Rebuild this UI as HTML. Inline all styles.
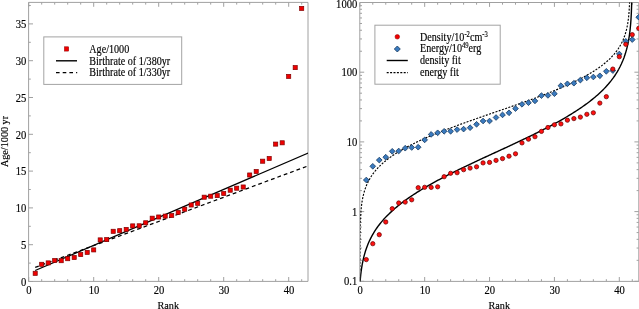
<!DOCTYPE html><html><head><meta charset="utf-8"><style>
html,body{margin:0;padding:0;background:#fff;}
svg{display:block;}
text{font-family:"Liberation Serif",serif;fill:#000;stroke:#000;stroke-width:0.15px;}svg{will-change:transform;}
</style></head><body>
<svg width="639" height="309" viewBox="0 0 639 309">
<rect x="0" y="0" width="639" height="309" fill="#fff"/>
<defs><clipPath id="cl"><rect x="28.6" y="2.4" width="279.4" height="279"/></clipPath>
<clipPath id="cr"><rect x="360.15" y="2.5" width="281" height="278.9"/></clipPath></defs>
<path d="M28.7 281.4v-4.4M28.7 2.4v4.4M41.7 281.4v-2.2M41.7 2.4v2.2M54.7 281.4v-2.2M54.7 2.4v2.2M67.7 281.4v-2.2M67.7 2.4v2.2M80.7 281.4v-2.2M80.7 2.4v2.2M93.7 281.4v-4.4M93.7 2.4v4.4M106.7 281.4v-2.2M106.7 2.4v2.2M119.7 281.4v-2.2M119.7 2.4v2.2M132.7 281.4v-2.2M132.7 2.4v2.2M145.7 281.4v-2.2M145.7 2.4v2.2M158.7 281.4v-4.4M158.7 2.4v4.4M171.7 281.4v-2.2M171.7 2.4v2.2M184.7 281.4v-2.2M184.7 2.4v2.2M197.7 281.4v-2.2M197.7 2.4v2.2M210.7 281.4v-2.2M210.7 2.4v2.2M223.7 281.4v-4.4M223.7 2.4v4.4M236.7 281.4v-2.2M236.7 2.4v2.2M249.7 281.4v-2.2M249.7 2.4v2.2M262.7 281.4v-2.2M262.7 2.4v2.2M275.7 281.4v-2.2M275.7 2.4v2.2M288.7 281.4v-4.4M288.7 2.4v4.4M301.7 281.4v-2.2M301.7 2.4v2.2M28.6 281.5h4.4M28.6 263.1h2.2M28.6 244.7h4.4M28.6 226.3h2.2M28.6 207.9h4.4M28.6 189.5h2.2M28.6 171.1h4.4M28.6 152.7h2.2M28.6 134.3h4.4M28.6 115.9h2.2M28.6 97.5h4.4M28.6 79.1h2.2M28.6 60.7h4.4M28.6 42.3h2.2M28.6 23.9h4.4M28.6 5.5h2.2" stroke="#a0a0a0" stroke-width="1" fill="none"/>
<path d="M28.6 2.4H308V281.4H28.6Z" stroke="#a0a0a0" stroke-width="1.0" fill="none"/>
<text transform="translate(26.3 285.8) scale(0.9 1)" font-size="11.8" text-anchor="end">0</text>
<text transform="translate(26.3 249) scale(0.9 1)" font-size="11.8" text-anchor="end">5</text>
<text transform="translate(26.3 212.2) scale(0.9 1)" font-size="11.8" text-anchor="end">10</text>
<text transform="translate(26.3 175.4) scale(0.9 1)" font-size="11.8" text-anchor="end">15</text>
<text transform="translate(26.3 138.6) scale(0.9 1)" font-size="11.8" text-anchor="end">20</text>
<text transform="translate(26.3 101.8) scale(0.9 1)" font-size="11.8" text-anchor="end">25</text>
<text transform="translate(26.3 65) scale(0.9 1)" font-size="11.8" text-anchor="end">30</text>
<text transform="translate(26.3 28.2) scale(0.9 1)" font-size="11.8" text-anchor="end">35</text>
<text transform="translate(29 294) scale(0.9 1)" font-size="11.8" text-anchor="middle">0</text>
<text transform="translate(94 294) scale(0.9 1)" font-size="11.8" text-anchor="middle">10</text>
<text transform="translate(159 294) scale(0.9 1)" font-size="11.8" text-anchor="middle">20</text>
<text transform="translate(224 294) scale(0.9 1)" font-size="11.8" text-anchor="middle">30</text>
<text transform="translate(289 294) scale(0.9 1)" font-size="11.8" text-anchor="middle">40</text>
<text x="168.3" y="308.6" font-size="10.2" text-anchor="middle">Rank</text>
<text transform="translate(8.2 141.5) rotate(-90)" font-size="10.2" text-anchor="middle">Age/1000 yr</text>
<g clip-path="url(#cl)"><path d="M35.2 270.53L308.2 153.07" stroke="#000" stroke-width="1.25" fill="none"/><path d="M35.2 267.37L308.2 165.82" stroke="#000" stroke-width="1.25" stroke-dasharray="3.8 3.0" fill="none"/><rect x="33.15" y="271.25" width="4.1" height="4.1" fill="#f00000" stroke="#800000" stroke-width="0.7"/><rect x="39.65" y="262.25" width="4.1" height="4.1" fill="#f00000" stroke="#800000" stroke-width="0.7"/><rect x="46.15" y="260.85" width="4.1" height="4.1" fill="#f00000" stroke="#800000" stroke-width="0.7"/><rect x="52.65" y="258.45" width="4.1" height="4.1" fill="#f00000" stroke="#800000" stroke-width="0.7"/><rect x="59.15" y="258.65" width="4.1" height="4.1" fill="#f00000" stroke="#800000" stroke-width="0.7"/><rect x="65.65" y="256.65" width="4.1" height="4.1" fill="#f00000" stroke="#800000" stroke-width="0.7"/><rect x="72.15" y="255.45" width="4.1" height="4.1" fill="#f00000" stroke="#800000" stroke-width="0.7"/><rect x="78.65" y="252.55" width="4.1" height="4.1" fill="#f00000" stroke="#800000" stroke-width="0.7"/><rect x="85.15" y="250.35" width="4.1" height="4.1" fill="#f00000" stroke="#800000" stroke-width="0.7"/><rect x="91.65" y="247.85" width="4.1" height="4.1" fill="#f00000" stroke="#800000" stroke-width="0.7"/><rect x="98.15" y="237.85" width="4.1" height="4.1" fill="#f00000" stroke="#800000" stroke-width="0.7"/><rect x="104.65" y="237.55" width="4.1" height="4.1" fill="#f00000" stroke="#800000" stroke-width="0.7"/><rect x="111.15" y="229.25" width="4.1" height="4.1" fill="#f00000" stroke="#800000" stroke-width="0.7"/><rect x="117.65" y="228.65" width="4.1" height="4.1" fill="#f00000" stroke="#800000" stroke-width="0.7"/><rect x="124.15" y="227.35" width="4.1" height="4.1" fill="#f00000" stroke="#800000" stroke-width="0.7"/><rect x="130.65" y="223.85" width="4.1" height="4.1" fill="#f00000" stroke="#800000" stroke-width="0.7"/><rect x="137.15" y="223.75" width="4.1" height="4.1" fill="#f00000" stroke="#800000" stroke-width="0.7"/><rect x="143.65" y="220.75" width="4.1" height="4.1" fill="#f00000" stroke="#800000" stroke-width="0.7"/><rect x="150.15" y="216.15" width="4.1" height="4.1" fill="#f00000" stroke="#800000" stroke-width="0.7"/><rect x="156.65" y="214.95" width="4.1" height="4.1" fill="#f00000" stroke="#800000" stroke-width="0.7"/><rect x="163.15" y="214.05" width="4.1" height="4.1" fill="#f00000" stroke="#800000" stroke-width="0.7"/><rect x="169.65" y="213.45" width="4.1" height="4.1" fill="#f00000" stroke="#800000" stroke-width="0.7"/><rect x="176.15" y="210.35" width="4.1" height="4.1" fill="#f00000" stroke="#800000" stroke-width="0.7"/><rect x="182.65" y="207.15" width="4.1" height="4.1" fill="#f00000" stroke="#800000" stroke-width="0.7"/><rect x="189.15" y="202.95" width="4.1" height="4.1" fill="#f00000" stroke="#800000" stroke-width="0.7"/><rect x="195.65" y="201.25" width="4.1" height="4.1" fill="#f00000" stroke="#800000" stroke-width="0.7"/><rect x="202.15" y="195.15" width="4.1" height="4.1" fill="#f00000" stroke="#800000" stroke-width="0.7"/><rect x="208.65" y="194.15" width="4.1" height="4.1" fill="#f00000" stroke="#800000" stroke-width="0.7"/><rect x="215.15" y="193.55" width="4.1" height="4.1" fill="#f00000" stroke="#800000" stroke-width="0.7"/><rect x="221.65" y="191.45" width="4.1" height="4.1" fill="#f00000" stroke="#800000" stroke-width="0.7"/><rect x="228.15" y="188.15" width="4.1" height="4.1" fill="#f00000" stroke="#800000" stroke-width="0.7"/><rect x="234.65" y="186.15" width="4.1" height="4.1" fill="#f00000" stroke="#800000" stroke-width="0.7"/><rect x="241.15" y="184.95" width="4.1" height="4.1" fill="#f00000" stroke="#800000" stroke-width="0.7"/><rect x="247.65" y="172.95" width="4.1" height="4.1" fill="#f00000" stroke="#800000" stroke-width="0.7"/><rect x="254.15" y="169.45" width="4.1" height="4.1" fill="#f00000" stroke="#800000" stroke-width="0.7"/><rect x="260.65" y="159.15" width="4.1" height="4.1" fill="#f00000" stroke="#800000" stroke-width="0.7"/><rect x="267.15" y="156.45" width="4.1" height="4.1" fill="#f00000" stroke="#800000" stroke-width="0.7"/><rect x="273.65" y="142.05" width="4.1" height="4.1" fill="#f00000" stroke="#800000" stroke-width="0.7"/><rect x="280.15" y="140.75" width="4.1" height="4.1" fill="#f00000" stroke="#800000" stroke-width="0.7"/><rect x="286.65" y="74.35" width="4.1" height="4.1" fill="#f00000" stroke="#800000" stroke-width="0.7"/><rect x="293.15" y="65.55" width="4.1" height="4.1" fill="#f00000" stroke="#800000" stroke-width="0.7"/><rect x="299.65" y="6.35" width="4.1" height="4.1" fill="#f00000" stroke="#800000" stroke-width="0.7"/></g>
<rect x="43.8" y="36.9" width="137.9" height="47.5" fill="#fff" stroke="#a3a3a3" stroke-width="1"/>
<rect x="64.4" y="46.8" width="4.3" height="4.3" fill="#f00000" stroke="#8a0000" stroke-width="0.5"/>
<path d="M56 60.8H77" stroke="#000" stroke-width="1.4"/>
<path d="M56 72.7H77.2" stroke="#000" stroke-width="1.3" stroke-dasharray="3.6 3.1"/>
<text transform="translate(89.3 52.9) scale(0.88 1)" font-size="11.5">Age/1000</text>
<text transform="translate(89.3 64.5) scale(0.88 1)" font-size="11.5">Birthrate of 1/380yr</text>
<text transform="translate(89.3 76.4) scale(0.88 1)" font-size="11.5">Birthrate of 1/330yr</text>
<path d="M359.8 281.4v-4.4M359.8 2.5v4.4M372.78 281.4v-2.2M372.78 2.5v2.2M385.75 281.4v-2.2M385.75 2.5v2.2M398.73 281.4v-2.2M398.73 2.5v2.2M411.7 281.4v-2.2M411.7 2.5v2.2M424.68 281.4v-4.4M424.68 2.5v4.4M437.65 281.4v-2.2M437.65 2.5v2.2M450.62 281.4v-2.2M450.62 2.5v2.2M463.6 281.4v-2.2M463.6 2.5v2.2M476.57 281.4v-2.2M476.57 2.5v2.2M489.55 281.4v-4.4M489.55 2.5v4.4M502.52 281.4v-2.2M502.52 2.5v2.2M515.5 281.4v-2.2M515.5 2.5v2.2M528.48 281.4v-2.2M528.48 2.5v2.2M541.45 281.4v-2.2M541.45 2.5v2.2M554.42 281.4v-4.4M554.42 2.5v4.4M567.4 281.4v-2.2M567.4 2.5v2.2M580.38 281.4v-2.2M580.38 2.5v2.2M593.35 281.4v-2.2M593.35 2.5v2.2M606.33 281.4v-2.2M606.33 2.5v2.2M619.3 281.4v-4.4M619.3 2.5v4.4M632.27 281.4v-2.2M632.27 2.5v2.2M359.8 281.3h4.4M638.8 281.3h-4.4M359.8 260.32h2.2M638.8 260.32h-2.2M359.8 248.04h2.2M638.8 248.04h-2.2M359.8 239.34h2.2M638.8 239.34h-2.2M359.8 232.58h2.2M638.8 232.58h-2.2M359.8 227.06h2.2M638.8 227.06h-2.2M359.8 222.4h2.2M638.8 222.4h-2.2M359.8 218.35h2.2M638.8 218.35h-2.2M359.8 214.79h2.2M638.8 214.79h-2.2M359.8 211.6h4.4M638.8 211.6h-4.4M359.8 190.62h2.2M638.8 190.62h-2.2M359.8 178.34h2.2M638.8 178.34h-2.2M359.8 169.64h2.2M638.8 169.64h-2.2M359.8 162.88h2.2M638.8 162.88h-2.2M359.8 157.36h2.2M638.8 157.36h-2.2M359.8 152.7h2.2M638.8 152.7h-2.2M359.8 148.65h2.2M638.8 148.65h-2.2M359.8 145.09h2.2M638.8 145.09h-2.2M359.8 141.9h4.4M638.8 141.9h-4.4M359.8 120.92h2.2M638.8 120.92h-2.2M359.8 108.64h2.2M638.8 108.64h-2.2M359.8 99.94h2.2M638.8 99.94h-2.2M359.8 93.18h2.2M638.8 93.18h-2.2M359.8 87.66h2.2M638.8 87.66h-2.2M359.8 83h2.2M638.8 83h-2.2M359.8 78.95h2.2M638.8 78.95h-2.2M359.8 75.39h2.2M638.8 75.39h-2.2M359.8 72.2h4.4M638.8 72.2h-4.4M359.8 51.22h2.2M638.8 51.22h-2.2M359.8 38.94h2.2M638.8 38.94h-2.2M359.8 30.24h2.2M638.8 30.24h-2.2M359.8 23.48h2.2M638.8 23.48h-2.2M359.8 17.96h2.2M638.8 17.96h-2.2M359.8 13.3h2.2M638.8 13.3h-2.2M359.8 9.25h2.2M638.8 9.25h-2.2M359.8 5.69h2.2M638.8 5.69h-2.2" stroke="#a0a0a0" stroke-width="1" fill="none"/>
<path d="M359.8 2.5H638.8V281.4H359.8Z" stroke="#a0a0a0" stroke-width="1.0" fill="none"/>
<text transform="translate(357.3 285.2) scale(0.9 1)" font-size="11.8" text-anchor="end">0.1</text>
<text transform="translate(357.3 215.5) scale(0.9 1)" font-size="11.8" text-anchor="end">1</text>
<text transform="translate(357.3 145.8) scale(0.9 1)" font-size="11.8" text-anchor="end">10</text>
<text transform="translate(357.3 76.1) scale(0.9 1)" font-size="11.8" text-anchor="end">100</text>
<text transform="translate(357.3 7.9) scale(0.9 1)" font-size="11.8" text-anchor="end">1000</text>
<text transform="translate(360.1 294) scale(0.9 1)" font-size="11.8" text-anchor="middle">0</text>
<text transform="translate(424.98 294) scale(0.9 1)" font-size="11.8" text-anchor="middle">10</text>
<text transform="translate(489.85 294) scale(0.9 1)" font-size="11.8" text-anchor="middle">20</text>
<text transform="translate(554.72 294) scale(0.9 1)" font-size="11.8" text-anchor="middle">30</text>
<text transform="translate(619.6 294) scale(0.9 1)" font-size="11.8" text-anchor="middle">40</text>
<text x="499.3" y="308.6" font-size="10.2" text-anchor="middle">Rank</text>
<g clip-path="url(#cr)"><path d="M359.92 270.43L360.01 238L360.1 230.92L360.19 226.57L360.28 223.38L360.38 220.85L360.47 218.74L360.56 216.93L360.65 215.34L360.74 213.92L360.83 212.63L360.92 211.46L361.02 210.37L361.11 209.36L361.2 208.43L361.29 207.54L361.38 206.71L361.47 205.93L361.57 205.18L361.66 204.47L361.75 203.79L361.84 203.14L361.93 202.52L362.02 201.92L362.11 201.35L362.21 200.79L362.3 200.26L362.39 199.74L362.48 199.24L362.57 198.75L362.66 198.28L362.75 197.83L362.85 197.38L362.94 196.95L363.03 196.53L363.12 196.11L363.21 195.71L363.3 195.32L363.4 194.94L363.49 194.56L363.58 194.2L363.67 193.84L363.76 193.49L363.85 193.15L363.94 192.81L364.04 192.48L364.13 192.16L364.22 191.84L364.31 191.52L364.4 191.22L364.49 190.92L364.58 190.62L364.68 190.33L364.77 190.04L364.86 189.76L364.95 189.48L365.04 189.21L365.13 188.94L365.23 188.67L365.32 188.41L365.32 188.41L366.62 185.05L367.92 182.19L369.23 179.7L370.53 177.48L371.83 175.47L373.13 173.63L374.44 171.93L375.74 170.35L377.04 168.86L378.34 167.47L379.65 166.14L380.95 164.88L382.25 163.68L383.56 162.54L384.86 161.43L386.16 160.37L387.46 159.35L388.77 158.36L390.07 157.4L391.37 156.48L392.68 155.58L393.98 154.7L395.28 153.85L396.58 153.02L397.89 152.21L399.19 151.41L400.49 150.64L401.8 149.88L403.1 149.14L404.4 148.41L405.7 147.69L407.01 146.99L408.31 146.3L409.61 145.62L410.91 144.96L412.22 144.3L413.52 143.65L414.82 143.02L416.13 142.39L417.43 141.77L418.73 141.16L420.03 140.55L421.34 139.96L422.64 139.37L423.94 138.78L425.25 138.21L426.55 137.64L427.85 137.07L429.15 136.51L430.46 135.96L431.76 135.41L433.06 134.87L434.37 134.33L435.67 133.8L436.97 133.27L438.27 132.75L439.58 132.22L440.88 131.71L442.18 131.2L443.49 130.69L444.79 130.18L446.09 129.68L447.39 129.18L448.7 128.68L450 128.19L451.3 127.7L452.6 127.21L453.91 126.72L455.21 126.24L456.51 125.76L457.82 125.28L459.12 124.81L460.42 124.33L461.72 123.86L463.03 123.39L464.33 122.92L465.63 122.46L466.94 121.99L468.24 121.53L469.54 121.06L470.84 120.6L472.15 120.14L473.45 119.69L474.75 119.23L476.06 118.77L477.36 118.32L478.66 117.86L479.96 117.41L481.27 116.96L482.57 116.51L483.87 116.05L485.17 115.6L486.48 115.15L487.78 114.7L489.08 114.26L490.39 113.81L491.69 113.36L492.99 112.91L494.29 112.46L495.6 112.01L496.9 111.56L498.2 111.11L499.51 110.67L500.81 110.22L502.11 109.77L503.41 109.32L504.72 108.87L506.02 108.42L507.32 107.97L508.63 107.51L509.93 107.06L511.23 106.61L512.53 106.15L513.84 105.7L515.14 105.24L516.44 104.79L517.74 104.33L519.05 103.87L520.35 103.41L521.65 102.94L522.96 102.48L524.26 102.02L525.56 101.55L526.86 101.08L528.17 100.61L529.47 100.14L530.77 99.66L532.08 99.19L533.38 98.71L534.68 98.23L535.98 97.75L537.29 97.26L538.59 96.77L539.89 96.28L541.2 95.79L542.5 95.29L543.8 94.79L545.1 94.29L546.41 93.79L547.71 93.28L549.01 92.76L550.32 92.25L551.62 91.73L552.92 91.2L554.22 90.67L555.53 90.14L556.83 89.6L558.13 89.06L559.43 88.51L560.74 87.96L562.04 87.4L563.34 86.84L564.65 86.26L565.95 85.69L567.25 85.11L568.55 84.52L569.86 83.92L571.16 83.32L572.46 82.7L573.77 82.08L575.07 81.46L576.37 80.82L577.67 80.17L578.98 79.51L580.28 78.85L581.58 78.17L582.89 77.48L584.19 76.78L585.49 76.06L586.79 75.33L588.1 74.59L589.4 73.83L590.7 73.06L592 72.26L593.31 71.45L594.61 70.62L595.91 69.77L597.22 68.89L598.52 67.99L599.82 67.07L601.12 66.11L602.43 65.12L603.73 64.1L605.03 63.04L606.34 61.94L607.64 60.79L608.94 59.59L610.24 58.33L611.55 57.01L612.85 55.61L614.15 54.12L615.46 52.54L616.76 50.84L618.06 49L619.36 46.99L620.67 44.77L621.97 42.28L623.27 39.42L624.58 36.06L624.58 36.06L624.67 35.8L624.76 35.53L624.85 35.26L624.94 34.99L625.03 34.71L625.12 34.43L625.22 34.14L625.31 33.85L625.4 33.55L625.49 33.25L625.58 32.95L625.67 32.63L625.76 32.32L625.86 31.99L625.95 31.66L626.04 31.33L626.13 30.98L626.22 30.63L626.31 30.27L626.41 29.91L626.5 29.53L626.59 29.15L626.68 28.76L626.77 28.36L626.86 27.95L626.95 27.52L627.05 27.09L627.14 26.65L627.23 26.19L627.32 25.72L627.41 25.23L627.5 24.73L627.59 24.21L627.69 23.68L627.78 23.12L627.87 22.55L627.96 21.95L628.05 21.33L628.14 20.68L628.24 20L628.33 19.29L628.42 18.54L628.51 17.76L628.6 16.93L628.69 16.05L628.78 15.11L628.88 14.1L628.97 13.02L629.06 11.84L629.15 10.55L629.24 9.13L629.33 7.54L629.42 5.73L629.52 3.62L629.61 1.09L629.7 -2.1" stroke="#000" stroke-width="1.15" stroke-dasharray="2.0 1.4" fill="none"/><path d="M359.82 285.37L359.91 284.01L360 282.74L360.1 281.55L360.19 280.42L360.28 279.36L360.37 278.34L360.47 277.38L360.56 276.46L360.65 275.59L360.74 274.74L360.84 273.93L360.93 273.15L361.02 272.4L361.11 271.68L361.21 270.98L361.3 270.3L361.39 269.64L361.49 269L361.58 268.38L361.67 267.78L361.76 267.19L361.86 266.62L361.95 266.06L362.04 265.52L362.13 264.99L362.23 264.47L362.32 263.96L362.41 263.47L362.5 262.98L362.6 262.51L362.69 262.04L362.78 261.59L362.87 261.14L362.97 260.7L363.06 260.27L363.15 259.85L363.25 259.43L363.34 259.02L363.43 258.62L363.52 258.23L363.62 257.84L363.71 257.46L363.8 257.08L363.89 256.71L363.99 256.35L364.08 255.99L364.17 255.63L364.17 255.63L365.49 251.07L366.81 247.2L368.13 243.83L369.45 240.82L370.77 238.1L372.08 235.61L373.4 233.3L374.72 231.16L376.04 229.15L377.36 227.26L378.68 225.46L380 223.76L381.32 222.13L382.64 220.58L383.95 219.08L385.27 217.65L386.59 216.26L387.91 214.92L389.23 213.63L390.55 212.37L391.87 211.15L393.19 209.97L394.5 208.81L395.82 207.69L397.14 206.59L398.46 205.51L399.78 204.46L401.1 203.44L402.42 202.43L403.74 201.44L405.05 200.47L406.37 199.52L407.69 198.59L409.01 197.67L410.33 196.77L411.65 195.88L412.97 195L414.29 194.14L415.61 193.29L416.92 192.45L418.24 191.62L419.56 190.8L420.88 189.99L422.2 189.19L423.52 188.4L424.84 187.62L426.16 186.85L427.47 186.09L428.79 185.33L430.11 184.58L431.43 183.84L432.75 183.1L434.07 182.38L435.39 181.65L436.71 180.94L438.03 180.23L439.34 179.52L440.66 178.82L441.98 178.13L443.3 177.44L444.62 176.75L445.94 176.07L447.26 175.39L448.58 174.72L449.89 174.05L451.21 173.39L452.53 172.73L453.85 172.07L455.17 171.42L456.49 170.77L457.81 170.12L459.13 169.47L460.45 168.83L461.76 168.19L463.08 167.55L464.4 166.92L465.72 166.29L467.04 165.66L468.36 165.03L469.68 164.4L471 163.78L472.31 163.16L473.63 162.54L474.95 161.92L476.27 161.3L477.59 160.68L478.91 160.07L480.23 159.45L481.55 158.84L482.87 158.23L484.18 157.62L485.5 157.01L486.82 156.4L488.14 155.79L489.46 155.18L490.78 154.57L492.1 153.96L493.42 153.36L494.73 152.75L496.05 152.14L497.37 151.53L498.69 150.92L500.01 150.32L501.33 149.71L502.65 149.1L503.97 148.49L505.29 147.88L506.6 147.27L507.92 146.66L509.24 146.05L510.56 145.43L511.88 144.82L513.2 144.21L514.52 143.59L515.84 142.97L517.15 142.35L518.47 141.73L519.79 141.11L521.11 140.48L522.43 139.86L523.75 139.23L525.07 138.6L526.39 137.97L527.7 137.33L529.02 136.7L530.34 136.06L531.66 135.42L532.98 134.77L534.3 134.12L535.62 133.47L536.94 132.82L538.26 132.16L539.57 131.5L540.89 130.84L542.21 130.17L543.53 129.49L544.85 128.82L546.17 128.14L547.49 127.45L548.81 126.76L550.12 126.07L551.44 125.37L552.76 124.66L554.08 123.95L555.4 123.23L556.72 122.51L558.04 121.78L559.36 121.05L560.68 120.31L561.99 119.56L563.31 118.8L564.63 118.04L565.95 117.26L567.27 116.48L568.59 115.69L569.91 114.9L571.23 114.09L572.54 113.27L573.86 112.44L575.18 111.6L576.5 110.75L577.82 109.89L579.14 109.01L580.46 108.12L581.78 107.22L583.1 106.3L584.41 105.36L585.73 104.41L587.05 103.45L588.37 102.46L589.69 101.45L591.01 100.42L592.33 99.37L593.65 98.3L594.96 97.2L596.28 96.08L597.6 94.92L598.92 93.74L600.24 92.52L601.56 91.26L602.88 89.96L604.2 88.63L605.52 87.24L606.83 85.8L608.15 84.31L609.47 82.75L610.79 81.13L612.11 79.42L613.43 77.63L614.75 75.74L616.07 73.73L617.38 71.58L618.7 69.28L620.02 66.79L621.34 64.07L622.66 61.06L623.98 57.69L625.3 53.82L626.62 49.26L626.62 49.26L626.71 48.9L626.8 48.54L626.89 48.18L626.99 47.81L627.08 47.43L627.17 47.05L627.26 46.66L627.36 46.27L627.45 45.87L627.54 45.46L627.64 45.04L627.73 44.62L627.82 44.19L627.91 43.75L628.01 43.3L628.1 42.85L628.19 42.38L628.28 41.91L628.38 41.42L628.47 40.92L628.56 40.42L628.65 39.9L628.75 39.37L628.84 38.83L628.93 38.27L629.02 37.7L629.12 37.11L629.21 36.51L629.3 35.89L629.4 35.25L629.49 34.59L629.58 33.91L629.67 33.21L629.77 32.48L629.86 31.73L629.95 30.95L630.04 30.14L630.14 29.3L630.23 28.42L630.32 27.51L630.41 26.54L630.51 25.53L630.6 24.47L630.69 23.34L630.78 22.15L630.88 20.88L630.97 19.51L631.06 18.04L631.15 16.45L631.25 14.71L631.34 12.78L631.43 10.63L631.53 8.17L631.62 5.32L631.71 1.89L631.8 -2.43" stroke="#000" stroke-width="1.4" fill="none"/><path d="M366.29 177.15L369.14 180L366.29 182.85L363.44 180Z" fill="#3a7abf" stroke="#173a5e" stroke-width="0.8"/><path d="M372.78 163.45L375.63 166.3L372.78 169.15L369.93 166.3Z" fill="#3a7abf" stroke="#173a5e" stroke-width="0.8"/><path d="M379.26 157.25L382.11 160.1L379.26 162.95L376.41 160.1Z" fill="#3a7abf" stroke="#173a5e" stroke-width="0.8"/><path d="M385.75 154.35L388.6 157.2L385.75 160.05L382.9 157.2Z" fill="#3a7abf" stroke="#173a5e" stroke-width="0.8"/><path d="M392.24 148.45L395.09 151.3L392.24 154.15L389.39 151.3Z" fill="#3a7abf" stroke="#173a5e" stroke-width="0.8"/><path d="M398.73 148.15L401.58 151L398.73 153.85L395.88 151Z" fill="#3a7abf" stroke="#173a5e" stroke-width="0.8"/><path d="M405.21 145.35L408.06 148.2L405.21 151.05L402.36 148.2Z" fill="#3a7abf" stroke="#173a5e" stroke-width="0.8"/><path d="M411.7 144.65L414.55 147.5L411.7 150.35L408.85 147.5Z" fill="#3a7abf" stroke="#173a5e" stroke-width="0.8"/><path d="M418.19 144.35L421.04 147.2L418.19 150.05L415.34 147.2Z" fill="#3a7abf" stroke="#173a5e" stroke-width="0.8"/><path d="M424.68 137.05L427.53 139.9L424.68 142.75L421.82 139.9Z" fill="#3a7abf" stroke="#173a5e" stroke-width="0.8"/><path d="M431.16 131.55L434.01 134.4L431.16 137.25L428.31 134.4Z" fill="#3a7abf" stroke="#173a5e" stroke-width="0.8"/><path d="M437.65 129.95L440.5 132.8L437.65 135.65L434.8 132.8Z" fill="#3a7abf" stroke="#173a5e" stroke-width="0.8"/><path d="M444.14 128.45L446.99 131.3L444.14 134.15L441.29 131.3Z" fill="#3a7abf" stroke="#173a5e" stroke-width="0.8"/><path d="M450.62 128.45L453.48 131.3L450.62 134.15L447.77 131.3Z" fill="#3a7abf" stroke="#173a5e" stroke-width="0.8"/><path d="M457.11 126.75L459.96 129.6L457.11 132.45L454.26 129.6Z" fill="#3a7abf" stroke="#173a5e" stroke-width="0.8"/><path d="M463.6 126.25L466.45 129.1L463.6 131.95L460.75 129.1Z" fill="#3a7abf" stroke="#173a5e" stroke-width="0.8"/><path d="M470.09 124.85L472.94 127.7L470.09 130.55L467.24 127.7Z" fill="#3a7abf" stroke="#173a5e" stroke-width="0.8"/><path d="M476.57 121.45L479.43 124.3L476.57 127.15L473.72 124.3Z" fill="#3a7abf" stroke="#173a5e" stroke-width="0.8"/><path d="M483.06 118.15L485.91 121L483.06 123.85L480.21 121Z" fill="#3a7abf" stroke="#173a5e" stroke-width="0.8"/><path d="M489.55 118.15L492.4 121L489.55 123.85L486.7 121Z" fill="#3a7abf" stroke="#173a5e" stroke-width="0.8"/><path d="M496.04 114.65L498.89 117.5L496.04 120.35L493.19 117.5Z" fill="#3a7abf" stroke="#173a5e" stroke-width="0.8"/><path d="M502.52 112.05L505.38 114.9L502.52 117.75L499.67 114.9Z" fill="#3a7abf" stroke="#173a5e" stroke-width="0.8"/><path d="M509.01 109.95L511.86 112.8L509.01 115.65L506.16 112.8Z" fill="#3a7abf" stroke="#173a5e" stroke-width="0.8"/><path d="M515.5 105.75L518.35 108.6L515.5 111.45L512.65 108.6Z" fill="#3a7abf" stroke="#173a5e" stroke-width="0.8"/><path d="M521.99 101.45L524.84 104.3L521.99 107.15L519.14 104.3Z" fill="#3a7abf" stroke="#173a5e" stroke-width="0.8"/><path d="M528.48 99.85L531.33 102.7L528.48 105.55L525.62 102.7Z" fill="#3a7abf" stroke="#173a5e" stroke-width="0.8"/><path d="M534.96 98.05L537.81 100.9L534.96 103.75L532.11 100.9Z" fill="#3a7abf" stroke="#173a5e" stroke-width="0.8"/><path d="M541.45 92.75L544.3 95.6L541.45 98.45L538.6 95.6Z" fill="#3a7abf" stroke="#173a5e" stroke-width="0.8"/><path d="M547.94 92.55L550.79 95.4L547.94 98.25L545.09 95.4Z" fill="#3a7abf" stroke="#173a5e" stroke-width="0.8"/><path d="M554.42 90.85L557.27 93.7L554.42 96.55L551.57 93.7Z" fill="#3a7abf" stroke="#173a5e" stroke-width="0.8"/><path d="M560.91 82.85L563.76 85.7L560.91 88.55L558.06 85.7Z" fill="#3a7abf" stroke="#173a5e" stroke-width="0.8"/><path d="M567.4 80.95L570.25 83.8L567.4 86.65L564.55 83.8Z" fill="#3a7abf" stroke="#173a5e" stroke-width="0.8"/><path d="M573.89 80.35L576.74 83.2L573.89 86.05L571.04 83.2Z" fill="#3a7abf" stroke="#173a5e" stroke-width="0.8"/><path d="M580.38 77.25L583.23 80.1L580.38 82.95L577.52 80.1Z" fill="#3a7abf" stroke="#173a5e" stroke-width="0.8"/><path d="M586.86 74.95L589.71 77.8L586.86 80.65L584.01 77.8Z" fill="#3a7abf" stroke="#173a5e" stroke-width="0.8"/><path d="M593.35 74.15L596.2 77L593.35 79.85L590.5 77Z" fill="#3a7abf" stroke="#173a5e" stroke-width="0.8"/><path d="M599.84 72.95L602.69 75.8L599.84 78.65L596.99 75.8Z" fill="#3a7abf" stroke="#173a5e" stroke-width="0.8"/><path d="M606.33 68.45L609.18 71.3L606.33 74.15L603.48 71.3Z" fill="#3a7abf" stroke="#173a5e" stroke-width="0.8"/><path d="M612.81 67.75L615.66 70.6L612.81 73.45L609.96 70.6Z" fill="#3a7abf" stroke="#173a5e" stroke-width="0.8"/><path d="M619.3 51.15L622.15 54L619.3 56.85L616.45 54Z" fill="#3a7abf" stroke="#173a5e" stroke-width="0.8"/><path d="M625.79 38.45L628.64 41.3L625.79 44.15L622.94 41.3Z" fill="#3a7abf" stroke="#173a5e" stroke-width="0.8"/><path d="M632.27 36.75L635.12 39.6L632.27 42.45L629.42 39.6Z" fill="#3a7abf" stroke="#173a5e" stroke-width="0.8"/><path d="M638.76 14.35L641.61 17.2L638.76 20.05L635.91 17.2Z" fill="#3a7abf" stroke="#173a5e" stroke-width="0.8"/><circle cx="366.29" cy="259.6" r="2.15" fill="#ff1010" stroke="#700000" stroke-width="0.75"/><circle cx="372.78" cy="243.7" r="2.15" fill="#ff1010" stroke="#700000" stroke-width="0.75"/><circle cx="379.26" cy="234.7" r="2.15" fill="#ff1010" stroke="#700000" stroke-width="0.75"/><circle cx="385.75" cy="222" r="2.15" fill="#ff1010" stroke="#700000" stroke-width="0.75"/><circle cx="392.24" cy="208.7" r="2.15" fill="#ff1010" stroke="#700000" stroke-width="0.75"/><circle cx="398.73" cy="203" r="2.15" fill="#ff1010" stroke="#700000" stroke-width="0.75"/><circle cx="405.21" cy="202.1" r="2.15" fill="#ff1010" stroke="#700000" stroke-width="0.75"/><circle cx="411.7" cy="199.8" r="2.15" fill="#ff1010" stroke="#700000" stroke-width="0.75"/><circle cx="418.19" cy="187.7" r="2.15" fill="#ff1010" stroke="#700000" stroke-width="0.75"/><circle cx="424.68" cy="187.3" r="2.15" fill="#ff1010" stroke="#700000" stroke-width="0.75"/><circle cx="431.16" cy="187.4" r="2.15" fill="#ff1010" stroke="#700000" stroke-width="0.75"/><circle cx="437.65" cy="186.8" r="2.15" fill="#ff1010" stroke="#700000" stroke-width="0.75"/><circle cx="444.14" cy="176.7" r="2.15" fill="#ff1010" stroke="#700000" stroke-width="0.75"/><circle cx="450.62" cy="173.3" r="2.15" fill="#ff1010" stroke="#700000" stroke-width="0.75"/><circle cx="457.11" cy="172.7" r="2.15" fill="#ff1010" stroke="#700000" stroke-width="0.75"/><circle cx="463.6" cy="169.7" r="2.15" fill="#ff1010" stroke="#700000" stroke-width="0.75"/><circle cx="470.09" cy="168.1" r="2.15" fill="#ff1010" stroke="#700000" stroke-width="0.75"/><circle cx="476.57" cy="166.8" r="2.15" fill="#ff1010" stroke="#700000" stroke-width="0.75"/><circle cx="483.06" cy="162.9" r="2.15" fill="#ff1010" stroke="#700000" stroke-width="0.75"/><circle cx="489.55" cy="162.4" r="2.15" fill="#ff1010" stroke="#700000" stroke-width="0.75"/><circle cx="496.04" cy="160.4" r="2.15" fill="#ff1010" stroke="#700000" stroke-width="0.75"/><circle cx="502.52" cy="158.6" r="2.15" fill="#ff1010" stroke="#700000" stroke-width="0.75"/><circle cx="509.01" cy="156.2" r="2.15" fill="#ff1010" stroke="#700000" stroke-width="0.75"/><circle cx="515.5" cy="153.8" r="2.15" fill="#ff1010" stroke="#700000" stroke-width="0.75"/><circle cx="521.99" cy="142.9" r="2.15" fill="#ff1010" stroke="#700000" stroke-width="0.75"/><circle cx="528.48" cy="139.2" r="2.15" fill="#ff1010" stroke="#700000" stroke-width="0.75"/><circle cx="534.96" cy="136.7" r="2.15" fill="#ff1010" stroke="#700000" stroke-width="0.75"/><circle cx="541.45" cy="131.4" r="2.15" fill="#ff1010" stroke="#700000" stroke-width="0.75"/><circle cx="547.94" cy="127.5" r="2.15" fill="#ff1010" stroke="#700000" stroke-width="0.75"/><circle cx="554.42" cy="124.8" r="2.15" fill="#ff1010" stroke="#700000" stroke-width="0.75"/><circle cx="560.91" cy="123.9" r="2.15" fill="#ff1010" stroke="#700000" stroke-width="0.75"/><circle cx="567.4" cy="120.2" r="2.15" fill="#ff1010" stroke="#700000" stroke-width="0.75"/><circle cx="573.89" cy="118.6" r="2.15" fill="#ff1010" stroke="#700000" stroke-width="0.75"/><circle cx="580.38" cy="117.1" r="2.15" fill="#ff1010" stroke="#700000" stroke-width="0.75"/><circle cx="586.86" cy="114.3" r="2.15" fill="#ff1010" stroke="#700000" stroke-width="0.75"/><circle cx="593.35" cy="112.8" r="2.15" fill="#ff1010" stroke="#700000" stroke-width="0.75"/><circle cx="599.84" cy="103.1" r="2.15" fill="#ff1010" stroke="#700000" stroke-width="0.75"/><circle cx="606.33" cy="96.7" r="2.15" fill="#ff1010" stroke="#700000" stroke-width="0.75"/><circle cx="612.81" cy="69.1" r="2.15" fill="#ff1010" stroke="#700000" stroke-width="0.75"/><circle cx="619.3" cy="56.7" r="2.15" fill="#ff1010" stroke="#700000" stroke-width="0.75"/><circle cx="625.79" cy="44.3" r="2.15" fill="#ff1010" stroke="#700000" stroke-width="0.75"/><circle cx="632.27" cy="34.7" r="2.15" fill="#ff1010" stroke="#700000" stroke-width="0.75"/><circle cx="638.76" cy="28.3" r="2.15" fill="#ff1010" stroke="#700000" stroke-width="0.75"/></g>
<rect x="374.9" y="25.2" width="125.3" height="59" fill="#fff" stroke="#a3a3a3" stroke-width="1"/>
<circle cx="397.3" cy="36.8" r="2.3" fill="#f00000" stroke="#8a0000" stroke-width="0.5"/>
<path d="M397.3 46L400.3 49L397.3 52L394.3 49Z" fill="#3a7abf" stroke="#173a5e" stroke-width="0.8"/>
<path d="M386.7 60.5H407.8" stroke="#000" stroke-width="1.4"/>
<path d="M386.7 72.6H407.8" stroke="#000" stroke-width="1.3" stroke-dasharray="2.0 1.4"/>
<text transform="translate(420.0 40.6) scale(0.88 1)" font-size="11.5">Density/10<tspan font-size="7.5" dy="-4">-2</tspan><tspan dy="4">cm</tspan><tspan font-size="7.5" dy="-4">-3</tspan></text>
<text transform="translate(420.0 52.4) scale(0.88 1)" font-size="11.5">Energy/10<tspan font-size="7.5" dy="-4">49</tspan><tspan dy="4">erg</tspan></text>
<text transform="translate(420.0 64.1) scale(0.88 1)" font-size="11.5">density fit</text>
<text transform="translate(420.0 76.1) scale(0.88 1)" font-size="11.5">energy fit</text>
</svg></body></html>
